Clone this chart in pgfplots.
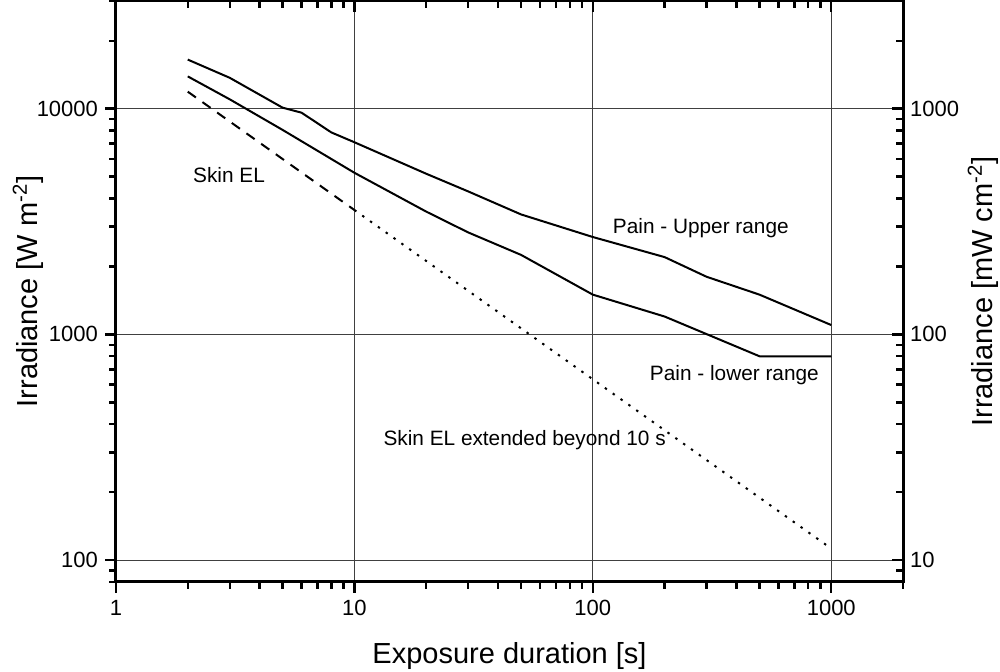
\documentclass[border=0pt]{standalone}
\usepackage{fontspec}
\setmainfont{Liberation Sans}
\usepackage{pgfplots}
\pgfplotsset{compat=1.18}

\tikzset{note/.style={anchor=west, inner sep=0pt, font=\fontsize{10.4}{12}\selectfont}}
\pgfplotsset{
  irr/.style={
    scale only axis, width=393.5pt, height=290.5pt,
    xmin=1, xmax=2000,
    axis line style={line width=1.5pt},
    major tick length=5.5pt, minor tick length=3.5pt,
    every tick/.style={black, line width=1.2pt},
    ticklabel style={font=\fontsize{11}{13}\selectfont},
    label style={font=\fontsize{14.5}{17}\selectfont},
  }
}

\begin{document}
\begin{tikzpicture}
\begin{loglogaxis}[irr,
  ymin=80, ymax=30000,
  tick align=outside,
  xtick pos=left, ytick pos=left,
  xtick={1,10,100,1000}, xticklabels={1,10,100,1000},
  minor xtick={2,3,...,9,20,30,...,90,200,300,...,900,2000},
  ytick={100,1000,10000}, yticklabels={100,1000,10000},
  minor ytick={80,90,200,300,...,900,2000,3000,...,9000,20000,30000},
  grid=major, major grid style={black!75, line width=0.5pt},
  xlabel={Exposure duration [s]},
  ylabel={Irradiance [W m\textsuperscript{-2}]},
  xlabel style={at={(axis description cs:0.5,-0.1274)}, anchor=center},
  ylabel style={at={(axis description cs:-0.1118,0.5)}, anchor=center},
]
% Pain - upper range
\addplot[black, line width=1pt, line join=round] coordinates {
  (2,16500) (3,13700) (5,10100) (6,9600) (8,7850) (10,7100)
  (20,5150) (30,4300) (50,3400) (100,2700) (200,2200) (300,1800)
  (500,1500) (1000,1100)
};
% Pain - lower range
\addplot[black, line width=1pt, line join=round] coordinates {
  (2,13900) (3,11000) (5,8050) (10,5200) (20,3500) (30,2830)
  (50,2250) (100,1500) (200,1200) (500,800) (1000,800)
};
% Skin EL
\addplot[black, line width=1pt, dash pattern=on 5pt off 4pt] coordinates {
  (2,11892) (10,3557)
};
% Skin EL extended beyond 10 s
\addplot[black, line width=1pt, dash pattern=on 1.2pt off 3.6pt] coordinates {
  (10,3557) (1000,112.5)
};
\node[note] at (axis cs:2.1,5060) {Skin EL};
\node[note] at (axis cs:121,2970) {Pain - Upper range};
\node[note] at (axis cs:173,660) {Pain - lower range};
\node[note] at (axis cs:13.2,340) {Skin EL extended beyond 10 s};
\end{loglogaxis}
\begin{loglogaxis}[irr,
  ymin=8, ymax=3000,
  tick align=inside,
  xtick pos=right, ytick pos=right, yticklabel pos=right,
  xtick={1,10,100,1000}, xticklabels={},
  minor xtick={2,3,...,9,20,30,...,90,200,300,...,900,2000},
  ytick={10,100,1000}, yticklabels={10,100,1000},
  minor ytick={8,9,20,30,...,90,200,300,...,900,2000,3000},
  ylabel={Irradiance [mW cm\textsuperscript{-2}]},
  ylabel style={at={(axis description cs:1.1017,0.5)}, anchor=center},
]
\end{loglogaxis}
\pgfresetboundingbox
\path[use as bounding box] (-58pt,-45pt) rectangle (442pt,291pt);
\end{tikzpicture}
\end{document}
